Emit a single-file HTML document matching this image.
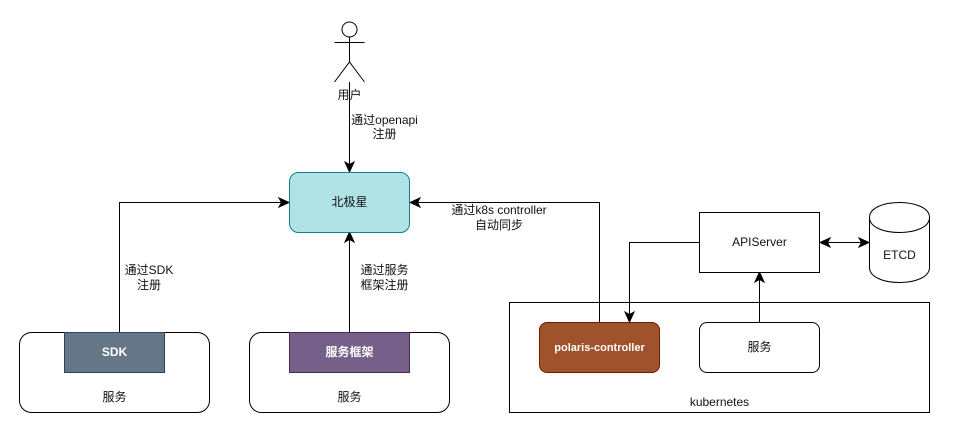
<!DOCTYPE html>
<html>
<head>
<meta charset="utf-8">
<style>
html,body{margin:0;padding:0;background:#fff;width:980px;height:436px;overflow:hidden}
svg{display:block}
text{font-family:"Liberation Sans","WenQuanYi Zen Hei","Noto Sans CJK SC",sans-serif;font-size:12px;fill:#111;text-anchor:middle}
.w{fill:#fff}
.b{font-weight:bold}
.l{fill:none;stroke:#000;stroke-width:1}
</style>
</head>
<body>
<svg width="980" height="436" viewBox="0 0 980 436" xmlns="http://www.w3.org/2000/svg">
<rect width="980" height="436" fill="#fff"/>

<!-- actor -->
<circle cx="349.5" cy="29.5" r="7.5" fill="#fff" stroke="#000"/>
<path class="l" d="M349.5 37V62M334.5 42.5H364.5M334.5 82L349.5 62L364.5 82"/>
<text x="349.5" y="99">用户</text>

<!-- kubernetes -->
<rect x="509.5" y="302.5" width="420" height="110" fill="#fff" stroke="#000"/>
<text x="719.5" y="406">kubernetes</text>

<!-- services -->
<rect x="19.5" y="332.5" width="190" height="80" rx="12" fill="#fff" stroke="#000"/>
<text x="114.5" y="401">服务</text>
<rect x="249.5" y="332.5" width="200" height="80" rx="12" fill="#fff" stroke="#000"/>
<text x="349.5" y="401">服务</text>

<!-- connectors -->
<path class="l" d="M349.5 82V165"/>
<path class="l" d="M119.5 332V202.5H282"/>
<path class="l" d="M349.5 332V239"/>
<path class="l" d="M599.5 322V202.5H417"/>
<path class="l" d="M699 242.5H629.5V315"/>
<path class="l" d="M759.5 322V279"/>
<path class="l" d="M826 242.5H863"/>

<!-- arrowheads -->
<path d="M349.5 172L345 162L349.5 164.5L354 162Z" fill="#000" stroke="#000"/>
<path d="M289 202.5L279 198L281.5 202.5L279 207Z" fill="#000" stroke="#000"/>
<path d="M349.5 232L345 242L349.5 239.5L354 242Z" fill="#000" stroke="#000"/>
<path d="M410 202.5L420 198L417.5 202.5L420 207Z" fill="#000" stroke="#000"/>
<path d="M629.5 322L625 312L629.5 314.5L634 312Z" fill="#000" stroke="#000"/>
<path d="M759.5 272L755 282L759.5 279.5L764 282Z" fill="#000" stroke="#000"/>
<path d="M820 242.5L830 238L827.5 242.5L830 247Z" fill="#000" stroke="#000"/>
<path d="M869 242.5L859 238L861.5 242.5L859 247Z" fill="#000" stroke="#000"/>

<!-- north star -->
<rect x="289.5" y="172.5" width="120" height="60" rx="9" fill="#b0e3e6" stroke="#0e8088"/>
<text x="349.5" y="206">北极星</text>

<!-- boxes -->
<rect x="64.5" y="332.5" width="100" height="40" fill="#647687" stroke="#314354"/>
<text class="w b" x="114.5" y="356">SDK</text>
<rect x="289.5" y="332.5" width="120" height="40" fill="#76608a" stroke="#432d57"/>
<text class="w b" x="349.5" y="356">服务框架</text>

<rect x="539.5" y="322.5" width="120" height="50" rx="7.5" fill="#a0522d" stroke="#6d1f00"/>
<text class="w b" x="599.5" y="351" style="font-size:11px">polaris-controller</text>
<rect x="699.5" y="322.5" width="120" height="50" rx="7.5" fill="#fff" stroke="#000"/>
<text x="759.5" y="351">服务</text>

<rect x="699.5" y="212.5" width="120" height="60" fill="#fff" stroke="#000"/>
<text x="759.5" y="246">APIServer</text>

<!-- cylinder -->
<path d="M869.5 217.5C869.5 197.5 929.5 197.5 929.5 217.5V267.5C929.5 287.5 869.5 287.5 869.5 267.5Z" fill="#fff" stroke="#000"/>
<path class="l" d="M869.5 217.5C869.5 237.5 929.5 237.5 929.5 217.5"/>
<text x="899.5" y="259">ETCD</text>

<!-- edge labels -->
<text x="384.5" y="124">通过openapi</text>
<text x="384.5" y="138">注册</text>
<text x="149" y="274">通过SDK</text>
<text x="149" y="289">注册</text>
<text x="384.5" y="274">通过服务</text>
<text x="384.5" y="289">框架注册</text>
<text x="499" y="214">通过k8s controller</text>
<text x="499" y="229">自动同步</text>
</svg>
</body>
</html>
